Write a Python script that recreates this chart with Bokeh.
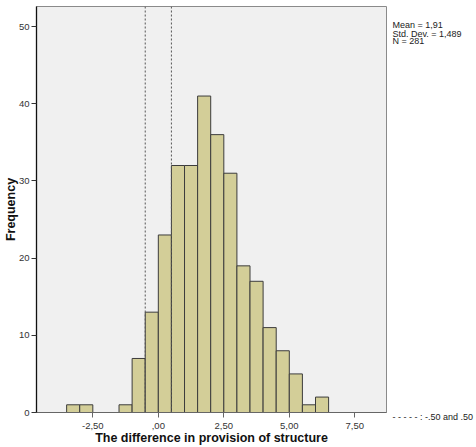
import math
from bokeh.plotting import figure
from bokeh.models import Range1d, FixedTicker, Span, LinearAxis, ColumnDataSource
from bokeh.embed import file_html
from bokeh.resources import INLINE

# ---- data ----
bin_starts = [-3.5, -3.0, -1.5, -1.0, -0.5, 0.0, 0.5, 1.0, 1.5, 2.0, 2.5, 3.0, 3.5, 4.0, 4.5, 5.0, 5.5, 6.0]
counts = [1, 1, 1, 7, 13, 23, 32, 32, 41, 36, 31, 19, 17, 11, 8, 5, 1, 2]
bin_width = 0.5
reference_lines = [-0.5, 0.5]
x_ticks = [-2.5, 0.0, 2.5, 5.0, 7.5]
x_tick_labels = ["-2,50", ",00", "2,50", "5,00", "7,50"]
y_ticks = [0, 10, 20, 30, 40, 50]
stats_lines = ["Mean = 1,91", "Std. Dev. = 1,489", "N = 281"]
x_title = "The difference in provision of structure"
y_title = "Frequency"
legend_text = "- - - - - : -.50 and .50"

FONT = "Liberation Sans"

src = ColumnDataSource(dict(
    left=bin_starts,
    right=[b + bin_width for b in bin_starts],
    top=counts,
))

p = figure(width=476, height=447, output_backend="svg", toolbar_location=None,
           x_range=Range1d(-4.65, 8.71), y_range=Range1d(0, 52.6),
           min_border_left=34, min_border_right=90, min_border_top=6, min_border_bottom=34)
p.background_fill_color = "#f0f0f0"
p.border_fill_color = "white"
p.outline_line_color = "#8a8a8a"
p.outline_line_width = 1
p.grid.visible = False

p.quad(left="left", right="right", top="top", bottom=0, source=src,
       fill_color="#d3ce98", line_color="#3c3c3c", line_width=1)

for xv in reference_lines:
    p.add_layout(Span(location=xv, dimension="height", line_color="#555555",
                      line_dash="2 2", line_width=1))

for ax in (p.xaxis[0], p.yaxis[0]):
    ax.major_tick_out = 5
    ax.major_tick_in = 0
    ax.minor_tick_line_color = None
    ax.major_label_text_font = FONT
    ax.major_label_text_font_size = "9.5px"
    ax.major_label_text_color = "#333333"
    ax.axis_label_text_font = FONT
    ax.axis_label_text_font_size = "12.5px"
    ax.axis_label_text_font_style = "bold"
    ax.axis_label_text_color = "#111111"

p.xaxis.axis_line_color = "#666666"
p.xaxis.major_tick_line_color = "#666666"
p.yaxis.axis_line_color = "#111111"
p.yaxis.axis_line_width = 1.3
p.yaxis.major_tick_line_color = "#333333"

p.xaxis.ticker = FixedTicker(ticks=x_ticks)
p.xaxis.major_label_overrides = {t: l for t, l in zip(x_ticks, x_tick_labels)}
p.xaxis.major_label_standoff = 5
p.xaxis.axis_label = x_title
p.xaxis.axis_label_standoff = -1
p.yaxis.ticker = FixedTicker(ticks=y_ticks)
p.yaxis.major_label_standoff = 2
p.yaxis.axis_label = y_title
p.yaxis.axis_label_standoff = -2

# text column right of the frame: an unlined axis on a pixel-row range
# (row 6 = frame top, row 413 = frame bottom)
p.extra_y_ranges = {"rows": Range1d(start=413, end=6)}
text_rows = [25.0, 33.3, 41.0, 412.9]
# the legend entry sits just under the frame bottom: a leading empty line pushes it down
text_items = stats_lines + ["\n" + legend_text]
side = LinearAxis(y_range_name="rows", ticker=FixedTicker(ticks=text_rows),
                  major_label_overrides={r: t for r, t in zip(text_rows, text_items)})
side.axis_line_color = None
side.major_tick_line_color = None
side.minor_tick_line_color = None
side.major_tick_out = 0
side.major_tick_in = 0
side.major_label_standoff = 6
side.major_label_text_font = FONT
side.major_label_text_font_size = "9px"
side.major_label_text_color = "#222222"
side.major_label_text_line_height = 1.0
p.add_layout(side, "right")

open("out.html", "w").write(file_html(p, INLINE))
